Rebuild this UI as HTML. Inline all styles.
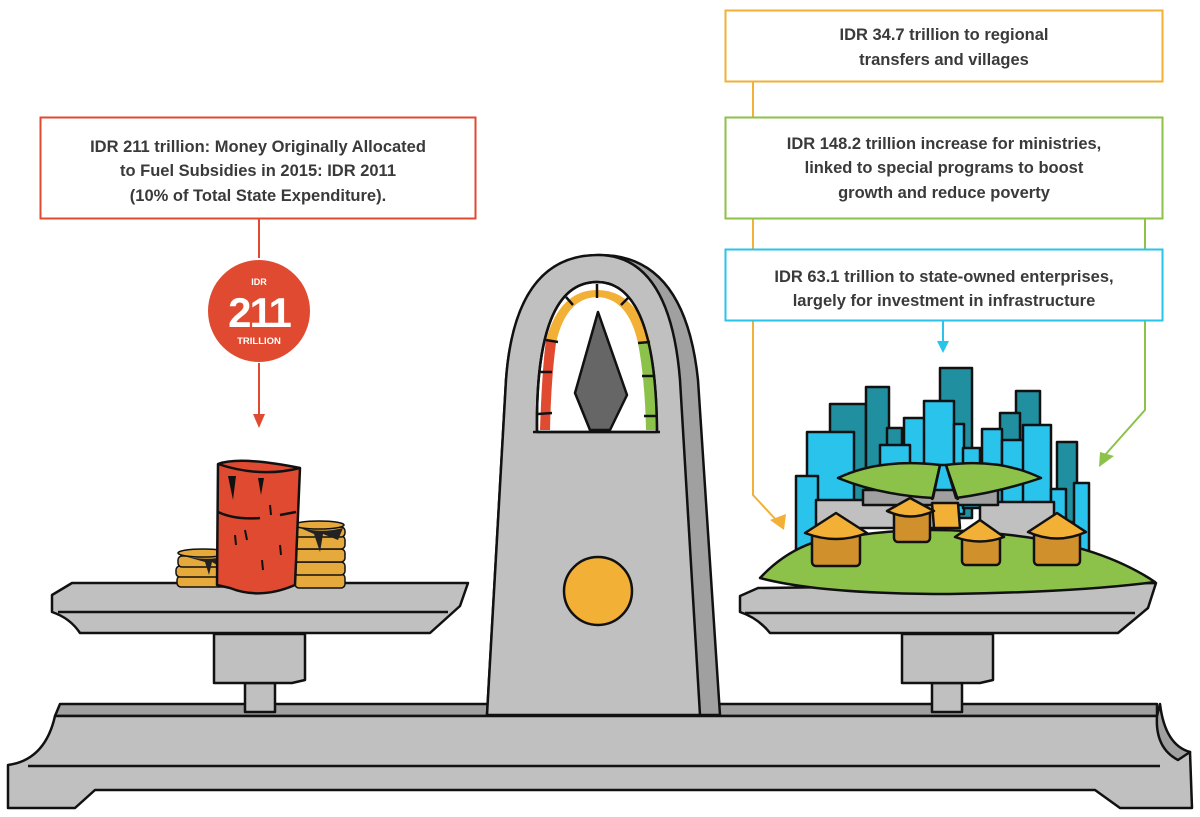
<!DOCTYPE html>
<html><head><meta charset="utf-8"><style>
html,body{margin:0;padding:0;background:#fff;width:1200px;height:817px;overflow:hidden}
svg{display:block}
text{font-family:"Liberation Sans",sans-serif;font-weight:bold;fill:#3a3a3a;font-size:16.5px;text-anchor:middle}
</style></head><body>
<svg width="1200" height="817" viewBox="0 0 1200 817" xmlns="http://www.w3.org/2000/svg">
<g stroke="#111" stroke-width="2.5" stroke-linejoin="round">
<!-- base -->
<path d="M60 704 L1157 704 L1157 716 L55 716 Z" fill="#a0a0a0"/>
<path d="M55 716 L1157 716 Q1165 750 1190 752 L1192 808 L1120 808 L1095 790 L95 790 L75 808 L8 808 L8 765 Q45 760 55 716 Z" fill="#c0c0c0"/>
<path d="M1157 716 L1160 704 Q1165 745 1190 752 L1178 760 Q1155 748 1157 716Z" fill="#a0a0a0"/>
<path d="M28 766 L1160 766" fill="none"/>
<!-- left post -->
<path d="M245 683 L275 683 L275 712 L245 712Z" fill="#c0c0c0"/>
<path d="M214 634 L305 634 L305 680 L292 683 L214 683Z" fill="#c0c0c0"/>
<!-- left pan -->
<path d="M72 583 L468 583 L460 606 L430 633 L80 633 Q70 618 52 612 L52 595Z" fill="#c0c0c0"/>
<path d="M58 612 L448 612" fill="none"/>
<!-- right post -->
<path d="M932 683 L962 683 L962 712 L932 712Z" fill="#c0c0c0"/>
<path d="M902 634 L993 634 L993 680 L980 683 L902 683Z" fill="#c0c0c0"/>
<!-- right pan -->
<path d="M758 588 L1156 583 L1148 608 L1118 633 L770 633 Q758 618 740 612 L740 596Z" fill="#c0c0c0"/>
<path d="M745 613 L1135 613" fill="none"/>
<!-- pillar -->
<path d="M487 715 L506 380 Q515 255 600 255 Q685 255 698 380 L720 715Z" fill="#a0a0a0"/>
<path d="M487 715 L506 380 Q515 255 598 255 Q670 255 680 380 L700 715Z" fill="#c0c0c0"/>
<path d="M537 432 Q535 282 597 282 Q656 282 657 432Z" fill="#fff"/>
<path d="M540 430 Q542 370 546 340 L556 343 Q551 380 550 430Z" fill="#e04a30" stroke="none"/>
<path d="M546 340 Q560 290 597 290 Q635 290 650 340 L638 343 Q628 298 597 297 Q566 298 556 343Z" fill="#f2b036" stroke="none"/>
<path d="M650 340 Q655 380 657 430 L646 430 Q645 380 638 343Z" fill="#8dc24a" stroke="none"/>
<path d="M537 432 Q535 282 597 282 Q656 282 657 432" fill="none"/>
<path d="M533 432 L660 432" fill="none"/>
<path d="M597 284 L597 298 M566 297 L573 305 M628 298 L621 305 M546 340 L558 342 M650 342 L638 343 M540 372 L552 372 M653 376 L642 376 M538 414 L552 413 M656 416 L644 416" fill="none"/>
<path d="M598 312 L627 395 L610 430 L590 430 L575 393Z" fill="#666"/>
<circle cx="598" cy="591" r="34" fill="#f2b036"/>
<!-- left items: coins -->
<g fill="#e6a93c" stroke-width="1.5">
<rect x="177" y="576" width="51" height="11" rx="4"/><rect x="176" y="566" width="52" height="11" rx="4"/><rect x="178" y="556" width="50" height="11" rx="4"/><ellipse cx="203" cy="553" rx="25" ry="4"/>
<rect x="295" y="574" width="50" height="14" rx="4"/><rect x="294" y="562" width="51" height="13" rx="4"/><rect x="294" y="549" width="51" height="13" rx="4"/><rect x="294" y="536" width="51" height="13" rx="4"/><rect x="294" y="527" width="51" height="10" rx="4"/><ellipse cx="319" cy="525" rx="25" ry="4"/>
</g>
<path d="M180 555 Q205 562 227 556 L222 568 L212 562 L209 575 L205 562Z" fill="#222" stroke="none"/>
<path d="M298 527 Q320 534 343 528 L338 540 L323 534 L320 552 L314 534Z" fill="#222" stroke="none"/>
<!-- barrel -->
<path d="M218 464 Q240 456 300 468 L295 585 Q260 600 230 588 L217 585Z" fill="#e04a30"/>
<path d="M218 464 Q260 478 300 468" fill="none"/>
<path d="M218 512 Q235 520 260 518 M280 515 L296 512" fill="none"/>
<path d="M228 476 L236 476 L233 500 Z M258 478 L264 478 L261 495Z" fill="#111" stroke="none"/>
<path d="M245 530 l2 10 M270 505 l1 10 M235 535 l1 10 M262 560 l1 10 M280 545 l1 10" fill="none" stroke-width="2"/>
<!-- village buildings -->
<g fill="#2090a0">
<rect x="830" y="404" width="36" height="120"/><rect x="866" y="387" width="23" height="140"/><rect x="940" y="368" width="32" height="150"/><rect x="1016" y="391" width="24" height="130"/><rect x="1000" y="413" width="20" height="120"/><rect x="1057" y="442" width="20" height="80"/><rect x="887" y="428" width="15" height="80"/>
</g>
<g fill="#2ac3ec">
<rect x="807" y="432" width="47" height="130"/><rect x="796" y="476" width="22" height="90"/><rect x="904" y="418" width="25" height="100"/><rect x="880" y="445" width="30" height="60"/><rect x="924" y="401" width="30" height="120"/><rect x="954" y="424" width="10" height="90"/><rect x="963" y="448" width="17" height="60"/><rect x="982" y="429" width="20" height="80"/><rect x="1002" y="440" width="22" height="80"/><rect x="1023" y="425" width="28" height="110"/><rect x="1051" y="489" width="15" height="70"/><rect x="1074" y="483" width="15" height="70"/>
</g>
<path d="M816 500 L934 500 L934 528 L816 528Z M980 502 L1054 502 L1054 540 L980 540Z" fill="#c0c0c0"/>
<path d="M863 490 L998 490 L998 505 L863 505Z" fill="#a0a0a0"/>
<path d="M932 503 L958 503 L960 528 L934 528Z" fill="#f2b036"/>
<path d="M838 478 Q880 458 940 465 L933 498 Q880 495 838 478Z M946 465 Q1000 458 1041 478 Q1000 492 956 498Z" fill="#8dc24a"/>
<path d="M932 500 L940 465 L946 465 L958 500" fill="none"/>
<path d="M760 578 Q800 535 860 535 Q930 525 1010 535 Q1100 545 1155 582 Q1080 592 950 594 Q820 594 760 578Z" fill="#8dc24a"/>
<!-- huts -->
<g fill="#d0902c">
<rect x="812" y="532" width="48" height="34" rx="4"/><rect x="894" y="510" width="36" height="32" rx="4"/><rect x="962" y="535" width="38" height="30" rx="4"/><rect x="1034" y="531" width="46" height="34" rx="4"/>
</g>
<g fill="#f2b036">
<path d="M805 533 L836 513 L867 533 Q836 545 805 533Z"/><path d="M887 511 L910 498 L934 511 Q910 522 887 511Z"/><path d="M955 537 L980 520 L1004 537 Q980 546 955 537Z"/><path d="M1028 532 L1057 513 L1086 532 Q1057 545 1028 532Z"/>
</g>
</g>
<!-- connectors -->
<g fill="none" stroke-width="2">
<path d="M259 219 L259 258 M259 363 L259 418" stroke="#e04a30"/>
<path d="M753 82 L753 495 L778 522" stroke="#f2b036"/>
<path d="M1145 219 L1145 410 L1105 455" stroke="#8dc24a"/>
<path d="M943 321 L943 344" stroke="#2ac3ec"/>
</g>
<path d="M253 414 L265 414 L259 428Z" fill="#e04a30"/>
<path d="M770 520 L786 514 L784 530Z" fill="#f2b036"/>
<path d="M1100 452 L1114 456 L1099 467Z" fill="#8dc24a"/>
<path d="M937 341 L949 341 L943 353Z" fill="#2ac3ec"/>
<!-- boxes -->
<rect x="40.5" y="117.5" width="435" height="101" fill="#fff" stroke="#e04a30" stroke-width="2"/>
<rect x="725.5" y="10.5" width="437" height="71" fill="#fff" stroke="#f2b036" stroke-width="2"/>
<rect x="725.5" y="117.5" width="437" height="101" fill="#fff" stroke="#8dc24a" stroke-width="2"/>
<rect x="725.5" y="249.5" width="437" height="71" fill="#fff" stroke="#2ac3ec" stroke-width="2"/>
<text x="258" y="152">IDR 211 trillion: Money Originally Allocated</text>
<text x="258" y="176">to Fuel Subsidies in 2015: IDR 2011</text>
<text x="258" y="201">(10% of Total State Expenditure).</text>
<text x="944" y="40">IDR 34.7 trillion to regional</text>
<text x="944" y="65">transfers and villages</text>
<text x="944" y="149">IDR 148.2 trillion increase for ministries,</text>
<text x="944" y="173">linked to special programs to boost</text>
<text x="944" y="198">growth and reduce poverty</text>
<text x="944" y="282">IDR 63.1 trillion to state-owned enterprises,</text>
<text x="944" y="306">largely for investment in infrastructure</text>
<circle cx="259" cy="311" r="51" fill="#e04a30"/>
<text x="259" y="285" style="fill:#fff;font-size:9px">IDR</text>
<text x="259" y="327" style="fill:#fff;font-size:42px;letter-spacing:-2px">211</text>
<text x="259" y="344" style="fill:#fff;font-size:9.5px">TRILLION</text>
</svg>
</body></html>
